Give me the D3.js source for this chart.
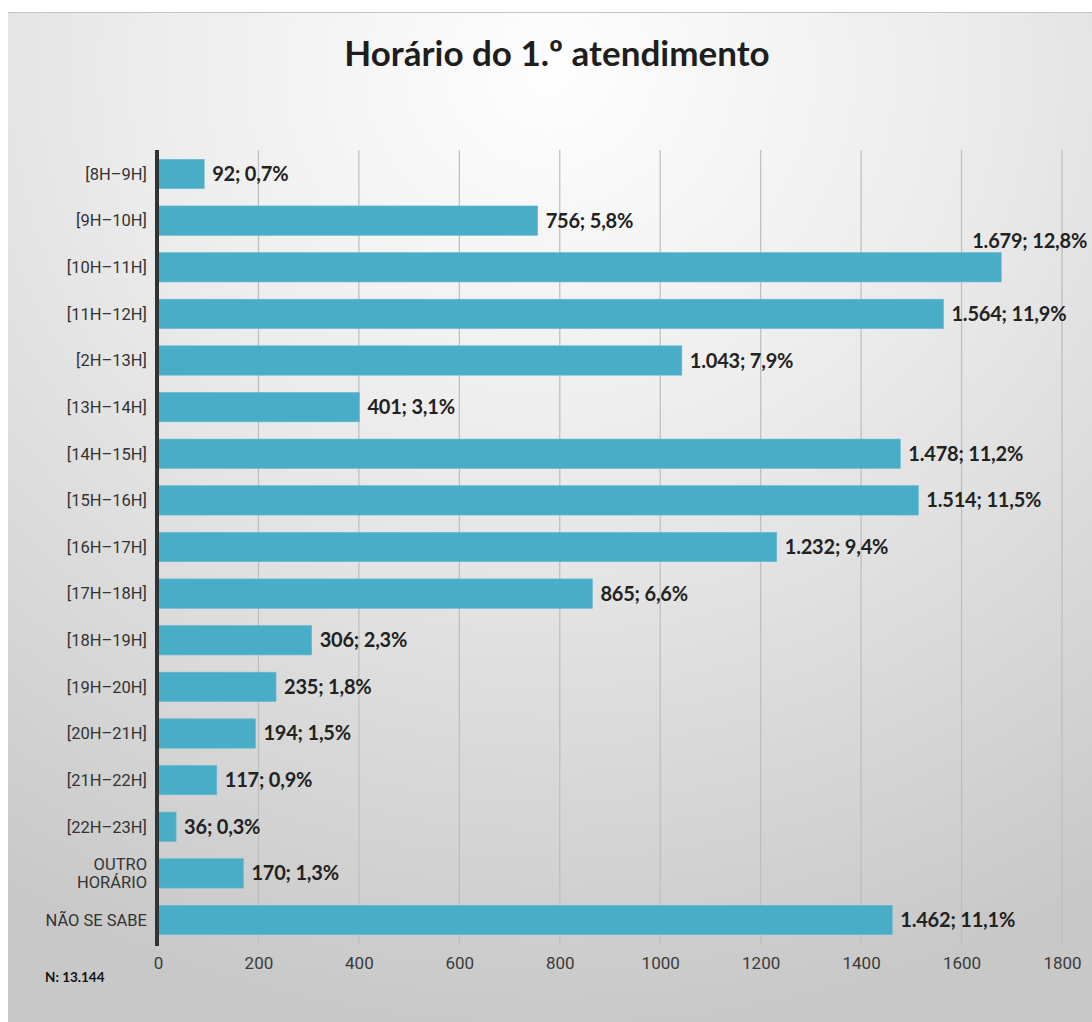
<!DOCTYPE html>
<html>
<head>
<meta charset="utf-8">
<script src="https://cdn.jsdelivr.net/npm/d3@7"></script>
<style>
  body { margin: 0; background: #fff; }
  svg { display: block; }
</style>
</head>
<body>
<div id="chart"></div>
<script>
// data
const categories = ["[8H–9H]", "[9H–10H]", "[10H–11H]", "[11H–12H]", "[2H–13H]", "[13H–14H]",
    "[14H–15H]", "[15H–16H]", "[16H–17H]", "[17H–18H]", "[18H–19H]", "[19H–20H]",
    "[20H–21H]", "[21H–22H]", "[22H–23H]", "OUTRO HORÁRIO", "NÃO SE SABE"];
const counts = [92, 756, 1679, 1564, 1043, 401, 1478, 1514, 1232, 865, 306, 235, 194, 117, 36, 170, 1462];
const percents = ["0,7%", "5,8%", "12,8%", "11,9%", "7,9%", "3,1%", "11,2%", "11,5%", "9,4%",
    "6,6%", "2,3%", "1,8%", "1,5%", "0,9%", "0,3%", "1,3%", "11,1%"];
const xTicks = [0, 200, 400, 600, 800, 1000, 1200, 1400, 1600, 1800];
const chartTitle = "Horário do 1.º atendimento";
const footnote = "N: 13.144";

const chartW = 1092;
const chartH = 1022;
const plotLeft = 158, plotRight = 1062, plotTop = 150, plotBottom = 944;

const pt = d3.formatLocale({decimal: ",", thousands: ".", grouping: [3], currency: ["", ""]});
const fmt = pt.format(",");

var svg = d3.select("#chart").append("svg")
    .attr("width", chartW)
    .attr("height", chartH);

// background panel with soft gradient
var defs = svg.append("defs");
var grad = defs.append("radialGradient")
    .attr("id", "bg")
    .attr("cx", "0.5").attr("cy", "0.06")
    .attr("r", "0.95");
grad.append("stop").attr("offset", "0").attr("stop-color", "#fefefe");
grad.append("stop").attr("offset", "0.4").attr("stop-color", "#ececec");
grad.append("stop").attr("offset", "1").attr("stop-color", "#c8c8c8");

svg.append("rect")
    .attr("x", 8).attr("y", 12)
    .attr("width", chartW - 8).attr("height", chartH - 12)
    .attr("fill", "url(#bg)");
svg.append("line")
    .attr("x1", 8).attr("x2", chartW)
    .attr("y1", 12.5).attr("y2", 12.5)
    .attr("stroke", "#c4c4c4").attr("stroke-width", 1);

var x = d3.scaleLinear().domain([0, 1800]).range([plotLeft, plotRight]);
var y = d3.scaleBand().domain(categories).range([150.7, 943.3]).paddingInner(0.37).paddingOuter(0.185);

// title
svg.append("text")
    .attr("x", 557).attr("y", 66)
    .attr("text-anchor", "middle")
    .style("font-family", "Lato, sans-serif")
    .style("font-weight", "700")
    .style("font-size", "35px")
    .style("fill", "#1e1e1e")
    .text(chartTitle);

// grid lines
svg.append("g")
    .selectAll("line")
    .data(xTicks.slice(1))
    .enter()
    .append("line")
    .attr("x1", function(d) { return x(d); })
    .attr("x2", function(d) { return x(d); })
    .attr("y1", plotTop)
    .attr("y2", plotBottom)
    .attr("stroke", "#bdbdbd")
    .attr("stroke-width", 1.2);

// x axis labels
var xAxis = d3.axisBottom(x).tickValues(xTicks).tickSize(0).tickPadding(0).tickFormat(d3.format("d"));
var gx = svg.append("g")
    .attr("transform", "translate(0," + 957 + ")")
    .call(xAxis);
gx.select(".domain").remove();
gx.selectAll("text")
    .style("font-family", "Roboto, sans-serif")
    .style("font-size", "17px")
    .style("fill", "#3a3a3a");

// bars
svg.append("g")
    .selectAll("rect")
    .data(counts)
    .enter()
    .append("rect")
    .attr("x", x(0))
    .attr("y", function(d, i) { return y(categories[i]); })
    .attr("width", function(d) { return x(d) - x(0); })
    .attr("height", y.bandwidth())
    .attr("fill", "#4aadc7")
    .attr("stroke", "#62bad2")
    .attr("stroke-width", 0.6);

// value labels
svg.append("g")
    .selectAll("text")
    .data(counts)
    .enter()
    .append("text")
    .attr("x", function(d) { return d > 1600 ? x(d) - 29 : x(d) + 8; })
    .attr("y", function(d, i) {
        var yc = y(categories[i]) + y.bandwidth() / 2;
        return d > 1600 ? y(categories[i]) - 12 : yc;
    })
    .attr("dy", "0.35em")
    .style("font-family", "Lato, sans-serif")
    .style("font-weight", "700")
    .style("font-size", "20px")
    .style("letter-spacing", "-0.2px")
    .style("fill", "#222")
    .text(function(d, i) { return fmt(d) + "; " + percents[i]; });

// category labels
var cat = svg.append("g")
    .selectAll("text")
    .data(categories)
    .enter()
    .append("text")
    .attr("x", 147)
    .attr("y", function(d) { return y(d) + y.bandwidth() / 2; })
    .attr("text-anchor", "end")
    .style("font-family", "Roboto, sans-serif")
    .style("font-size", "16.5px")
    .style("fill", "#333");
cat.each(function(d) {
    var words = d.split(" ");
    var t = d3.select(this);
    if (d.indexOf("[") < 0 && words.length == 2) {
        t.append("tspan").attr("x", 147).attr("dy", "-0.22em").text(words[0]);
        t.append("tspan").attr("x", 147).attr("dy", "1.1em").text(words[1]);
    } else {
        t.attr("dy", "0.35em").text(d);
    }
});

// y axis line
svg.append("line")
    .attr("x1", x(0) - 1).attr("x2", x(0) - 1)
    .attr("y1", plotTop).attr("y2", plotBottom + 2)
    .attr("stroke", "#333")
    .attr("stroke-width", 4);

// footnote
svg.append("text")
    .attr("x", 45).attr("y", 982)
    .style("font-family", "Lato, sans-serif")
    .style("font-weight", "700")
    .style("font-size", "13.5px")
    .style("fill", "#111")
    .text(footnote);
</script>
</body>
</html>
